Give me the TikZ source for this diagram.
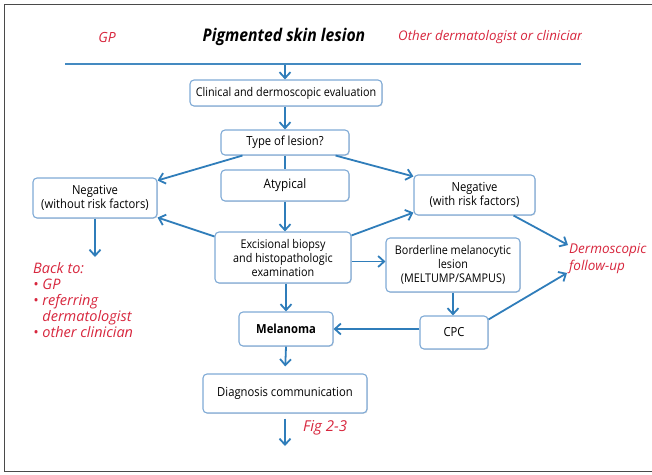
\documentclass[tikz,border=0pt]{standalone}
\usepackage{fontspec}
\setmainfont{Open Sans}[FakeStretch=0.9]
\newfontfamily\redfont{Open Sans}
\usetikzlibrary{arrows.meta,shadows}
\definecolor{arrowblue}{HTML}{2F7DBA}
\definecolor{boxblue}{HTML}{7FAAD6}
\definecolor{redtext}{HTML}{D7263D}
\definecolor{framegray}{HTML}{4A4A4A}
\begin{document}
\begin{tikzpicture}[x=1pt,y=-1pt,
  box/.style={draw=boxblue, line width=1.1pt, rounded corners=4pt, fill=white, align=center,
    inner sep=0pt, font=\fontsize{12}{14}\selectfont,
    drop shadow={shadow xshift=0.8pt, shadow yshift=-0.8pt, opacity=0.25}},
  arr/.style={draw=arrowblue, line width=1.8pt, -{Straight Barb[length=6pt,width=11pt,line width=1.8pt]}},
  ln/.style={draw=arrowblue, line width=1.8pt},
  redtxt/.style={text=redtext, font=\redfont\itshape\fontsize{14.5}{16}\selectfont, inner sep=0pt}
]
\useasboundingbox (0,0) rectangle (652,474);
\draw[framegray, line width=1.5pt] (652,4.5) -- (4.5,4.5) -- (4.5,471.5) -- (652,471.5);

% title
\draw[arrowblue!90, line width=2.2pt] (65,64) -- (581,64);
\node[redtxt, font=\redfont\itshape\fontsize{14}{16}\selectfont] (gp) at (107,37) {GP};
\node[inner sep=0pt, font=\bfseries\itshape\fontsize{17.5}{20}\selectfont] (title) at (284,37) {Pigmented skin lesion};
\begin{scope}
  \clip (390,20) rectangle (581,55);
  \node[redtxt, anchor=west, font=\redfont\itshape\fontsize{13.3}{16}\selectfont] (other) at (398,37) {Other dermatologist or clinician};
\end{scope}

% boxes
\node[box, minimum width=192pt, minimum height=26pt] (clin) at (286,93) {Clinical and dermoscopic evaluation};
\node[box, minimum width=128pt, minimum height=25pt, font=\fontsize{12.5}{14}\selectfont] (type) at (285,142.5) {Type of lesion?};
\node[box, minimum width=128pt, minimum height=31pt, font=\fontsize{13}{15}\selectfont] (atyp) at (285,185.5) {Atypical};
\node[box, minimum width=136pt, minimum height=51pt] (exc) at (283,257.5) {Excisional biopsy\\and histopathologic\\examination};
\node[box, minimum width=124pt, minimum height=40pt, font=\fontsize{12.5}{14}\selectfont] (negwo) at (95,198) {Negative\\(without risk factors)};
\node[box, minimum width=121pt, minimum height=40pt, font=\fontsize{12.5}{14}\selectfont] (negw) at (474.5,195) {Negative\\(with risk factors)};
\node[box, minimum width=134pt, minimum height=54pt] (bord) at (453,265) {Borderline melanocytic\\lesion\\(MELTUMP/SAMPUS)};
\node[box, minimum width=68pt, minimum height=33pt, font=\fontsize{12.5}{14}\selectfont] (cpc) at (454,332.5) {CPC};
\node[box, minimum width=94pt, minimum height=34pt, font=\bfseries\fontsize{12.5}{14}\selectfont] (mel) at (286,329) {Melanoma};
\node[box, minimum width=164pt, minimum height=39pt, font=\fontsize{12.5}{14}\selectfont] (diag) at (285,393.5) {Diagnosis communication};

% red texts
\node[redtxt, anchor=north west, align=left] (back) at (33,262) {Back to:\\• GP\\• referring\\\hphantom{• }dermatologist\\• other clinician};
\node[redtxt, anchor=west, align=left, font=\redfont\itshape\fontsize{13.5}{17}\selectfont] (derm) at (569,259) {Dermoscopic\\follow-up};
\node[redtxt, anchor=west, font=\redfont\itshape\fontsize{15}{17}\selectfont] (fig) at (303,428) {Fig 2-3};

% coordinates
\coordinate (ttop) at (285,65);
\coordinate (bk) at (95,257);
\coordinate (dfa) at (568,245);
\coordinate (dfb) at (567,273);
\coordinate (fend) at (285,446);

% connectors
\draw[arr] (ttop) -- (ttop |- clin.north);
\draw[arr] (clin.south -| type.north) -- (type.north);
\draw[ln] (type.south) -- (atyp.north);
\draw[arr] (atyp.south) -- (atyp.south |- exc.north);
\draw[arr] ([xshift=22pt]type.south west) -- ([yshift=-3pt]negwo.north east);
\draw[arr] ([xshift=-14pt]type.south east) -- ([yshift=-2pt]negw.north west);
\draw[arr] ([yshift=-5pt]exc.north west) -- ([yshift=1pt]negwo.south east);
\draw[arr] ([yshift=-4pt]exc.north east) -- ([yshift=3pt]negw.south west);
\draw[arr] ([yshift=-4pt]exc.east) -- ([yshift=-4pt]exc.east -| bord.west);
\draw[arr] (negwo.south) -- (bk);
\draw[arr] ([xshift=-22pt]negw.south east) -- (dfa);
\draw[arr] ([yshift=-4pt]cpc.north east) -- (dfb);
\draw[arr] (bord.south) -- (bord.south |- cpc.north);
\draw[arr] (cpc.west |- mel.east) -- (mel.east);
\draw[arr] (mel.north |- exc.south) -- (mel.north);
\draw[arr, shorten >=7pt] (mel.south) -- (diag.north);
\draw[arr, shorten <=5pt] (diag.south) -- (fend);
\end{tikzpicture}
\end{document}
